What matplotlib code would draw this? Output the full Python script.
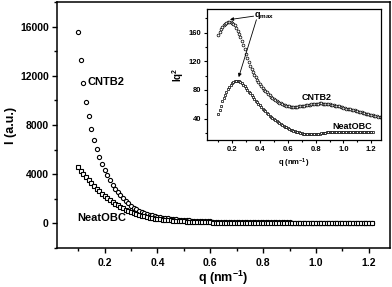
import numpy as np
import matplotlib
matplotlib.use("Agg")
import matplotlib.pyplot as plt
from matplotlib.ticker import MultipleLocator

plt.rcParams['font.family'] = ['Liberation Sans', 'DejaVu Sans']
plt.rcParams['font.weight'] = 'bold'
plt.rcParams['mathtext.fontset'] = 'custom'
plt.rcParams['mathtext.rm'] = 'Liberation Sans:bold'
plt.rcParams['mathtext.bf'] = 'Liberation Sans:bold'
plt.rcParams['mathtext.default'] = 'bf'

# Iq^2, q = 0.10 ... in steps of 0.01
q_start, q_step = 0.10, 0.01
iq2_cntb2 = [156, 160.5, 164.5, 167.5, 170.5, 172.5, 174, 175, 175, 174.5,
             173.5, 172, 170, 166.5, 162.5, 158.5, 154, 148.5, 142.5, 136.5,
             130, 124, 118.5, 113.5, 109, 105, 101, 97.5, 94.5, 91.5,
             88.5, 86, 83, 80.5, 78.5, 76.5, 74.5, 72.5, 70.5, 69,
             67.5, 66, 64.5, 63.5, 62, 61, 60, 59, 58.5, 58,
             57.5, 57, 56.5, 56.5, 56.5, 56.5, 56.5, 56.5, 57, 57,
             57.5, 58, 58, 58.5, 59, 59.5, 59.5, 60, 60, 60.5,
             60.5, 60.5, 60.5, 61, 61, 60.5, 60.5, 60.5, 60, 60,
             60, 59.5, 59, 58.5, 58, 58, 57.5, 57, 56, 55.5,
             55, 54.5, 54, 53.5, 53, 53, 52.5, 52, 51.5, 50.5,
             50, 49.5, 49, 48.5, 48, 47.5, 47, 46.5, 46, 45.5,
             45, 44.5, 44, 43.5, 43, 42.5, 42, 41.5, 41]
iq2_neat = [46, 52, 58, 64, 69, 73.5, 77.5, 81, 84.5, 87,
            89.5, 91, 92, 92.5, 92.5, 92, 91, 89.5, 87.5, 85,
            82.5, 80, 77.5, 75, 72.5, 70, 67.5, 65, 63, 60.5,
            58.5, 56.5, 54, 52, 50, 48, 46, 44, 42.5, 41,
            39.5, 38, 36.5, 35, 33.5, 32, 30.5, 29.5, 28.5, 27.5,
            26.5, 25.5, 24.5, 23.5, 23, 22, 21.5, 21, 20.5, 20,
            19.5, 19, 18.5, 18.5, 18, 18, 18, 18, 18, 18,
            18.5, 18.5, 19, 19, 19.5, 19.5, 20, 20, 20.5, 20.5,
            20.5, 21, 21, 21, 21, 21, 21, 21, 21, 21,
            21, 21, 21, 21, 21, 21, 21, 21, 21, 21,
            21, 21, 21, 21, 21, 21, 20.5, 20.5, 20.5, 20.5,
            20.5, 20.5]

q_c = q_start + q_step * np.arange(len(iq2_cntb2))
q_n = q_start + q_step * np.arange(len(iq2_neat))
iq2_c = np.array(iq2_cntb2)
iq2_n = np.array(iq2_neat)
main_c = q_c <= 1.215
xlabels = ['0.2', '0.4', '0.6', '0.8', '1.0', '1.2']

fig = plt.figure(figsize=(3.92, 2.87), dpi=100)
ax = fig.add_axes([0.1454, 0.1359, 0.8496, 0.857])

ax.plot(q_c[main_c], iq2_c[main_c] / q_c[main_c] ** 2, 'o', ms=3.0, mfc='white',
        mec='black', mew=0.8)
ax.plot(q_n, iq2_n / q_n ** 2, 's', ms=2.8, mfc='white', mec='black', mew=0.8)

ax.set_xlim(0.02, 1.28)
ax.set_ylim(-2000, 18000)
ax.set_xticks(np.arange(0.2, 1.21, 0.2))
ax.set_xticklabels(xlabels)
ax.xaxis.set_minor_locator(MultipleLocator(0.1))
ax.set_yticks(np.arange(0, 16001, 4000))
ax.yaxis.set_minor_locator(MultipleLocator(2000))
ax.tick_params(which='both', direction='out', labelsize=7.5, width=1.0)
ax.tick_params(which='major', length=3.5)
ax.tick_params(which='minor', length=2)
ax.tick_params(axis='y', pad=2.5)
for s in ax.spines.values():
    s.set_linewidth(1.1)
ax.set_xlabel(r'q (nm$^{-1}$)', fontsize=9, fontweight='bold', labelpad=1)
ax.set_ylabel('I (a.u.)', fontsize=9, fontweight='bold', labelpad=2)
ax.text(0.135, 11500, 'CNTB2', fontsize=8, fontweight='bold', va='center')
ax.text(0.095, 400, 'NeatOBC', fontsize=8, fontweight='bold', va='center')

# inset
ins = fig.add_axes([0.528, 0.5122, 0.444, 0.4564])
ins.plot(q_c, iq2_c, 'o', ms=2.0, mfc='white', mec='black', mew=0.5)
ins.plot(q_n, iq2_n, 's', ms=1.9, mfc='white', mec='black', mew=0.5)
ins.set_xlim(0.02, 1.27)
ins.set_ylim(10, 193)
ins.set_xticks(np.arange(0.2, 1.21, 0.2))
ins.set_xticklabels(xlabels)
ins.xaxis.set_minor_locator(MultipleLocator(0.1))
ins.set_yticks([40, 80, 120, 160])
ins.yaxis.set_minor_locator(MultipleLocator(20))
ins.tick_params(which='both', direction='out', labelsize=5.5, width=0.8, pad=1.5)
ins.tick_params(which='major', length=2.5)
ins.tick_params(which='minor', length=1.5)
for s in ins.spines.values():
    s.set_linewidth(0.9)
ins.set_xlabel(r'q (nm$^{-1}$)', fontsize=5.5, fontweight='bold', labelpad=3)
ins.set_ylabel(r'Iq$^2$', fontsize=7, fontweight='bold', labelpad=2)
ins.text(0.7, 69, 'CNTB2', fontsize=6.5, fontweight='bold', va='center')
ins.text(0.92, 29, 'NeatOBC', fontsize=6.5, fontweight='bold', va='center')

ins.text(0.36, 184, r'q$_{max}$', fontsize=6.5, fontweight='bold', va='center')
arrow = dict(arrowstyle='-|>', lw=0.6, color='black', mutation_scale=5,
             shrinkA=0, shrinkB=1)
ins.annotate('', xy=(0.175, 178), xytext=(0.355, 183), arrowprops=arrow)
ins.annotate('', xy=(0.245, 96), xytext=(0.375, 178), arrowprops=arrow)

fig.savefig('out.png', dpi=100)
